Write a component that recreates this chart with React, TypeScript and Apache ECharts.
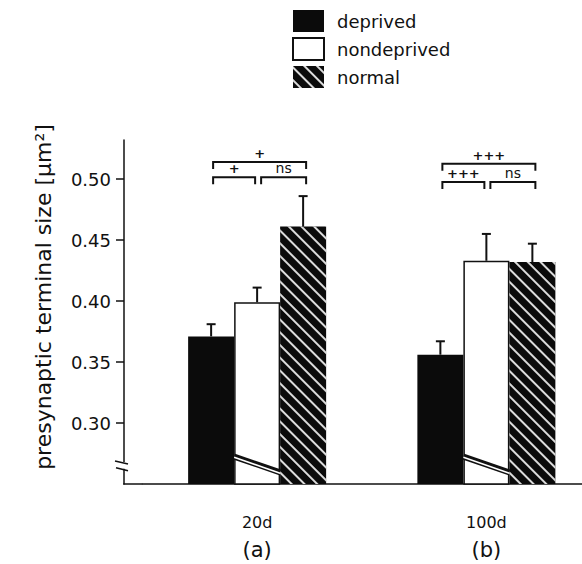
import React, { useEffect, useRef } from "react";
import * as echarts from "echarts";

const categories = ["20d", "100d"];
const panelLabels = ["(a)", "(b)"];
const seriesNames = ["deprived", "nondeprived", "normal"];
const deprived = [0.371, 0.356];
const nondeprived = [0.399, 0.433];
const normal = [0.461, 0.432];
const deprivedErr = [0.01, 0.011];
const nondeprivedErr = [0.012, 0.022];
const normalErr = [0.025, 0.015];
const yTicks = [0.3, 0.35, 0.4, 0.45, 0.5];
// [categoryIndex, fromBar, toBar, level, label]
const brackets: [number, number, number, number, string][] = [
  [0, 0, 1, 0.5015, "+"],
  [0, 1, 2, 0.5015, "ns"],
  [0, 0, 2, 0.514, "+"],
  [1, 0, 1, 0.4975, "+++"],
  [1, 1, 2, 0.4975, "ns"],
  [1, 0, 2, 0.5125, "+++"],
];
// axis break drawn across the middle bar of each group
const breakFrom = 0.2725;
const breakTo = 0.2595;

const FONT = "DejaVu Sans";
const BAR_W = 46;

export default function App() {
  const ref = useRef<HTMLDivElement>(null);
  useEffect(() => {
    if (!ref.current) return;
    const chart = echarts.init(ref.current, null, { renderer: "svg" });
    const values = [deprived, nondeprived, normal];
    const errs = [deprivedErr, nondeprivedErr, normalErr];
    const errData: number[][] = [];
    values.forEach((arr, s) =>
      arr.forEach((v, c) => errData.push([c, s, v, errs[s][c]]))
    );
    const barStyles: any[] = [
      { color: "#0b0b0b" },
      { color: "#ffffff", borderColor: "#111", borderWidth: 1.5 },
      {
        color: "#0b0b0b",
        decal: {
          symbol: "rect",
          symbolSize: 1,
          color: "rgba(255,255,255,0.85)",
          dashArrayX: [1, 0],
          dashArrayY: [1.6, 7],
          rotation: Math.PI / 4,
        },
      },
    ];
    const gridLeft = 142.5;
    const option: any = {
      animation: false,
      backgroundColor: "#fff",
      legend: {
        orient: "vertical",
        left: 292,
        top: 10,
        padding: 0,
        itemWidth: 31,
        itemHeight: 22,
        itemGap: 5,
        icon: "rect",
        data: seriesNames,
        selectedMode: false,
        textStyle: {
          fontFamily: FONT,
          fontSize: 18,
          color: "#111",
          padding: [0, 0, 0, 8],
        },
      },
      grid: { left: gridLeft, right: 0, top: 140, bottom: 80 },
      xAxis: {
        type: "category",
        data: categories,
        axisTick: { show: false },
        axisLine: { lineStyle: { color: "#111", width: 1.5 } },
        axisLabel: {
          margin: 28,
          formatter: (v: string, i: number) => `{a|${v}}\n{b|${panelLabels[i]}}`,
          rich: {
            a: { fontFamily: FONT, fontSize: 16, lineHeight: 20, color: "#111" },
            b: { fontFamily: FONT, fontSize: 21, lineHeight: 36, color: "#111" },
          },
        },
      },
      yAxis: {
        type: "value",
        min: 0.25,
        max: 0.532,
        interval: 0.05,
        offset: 18.5,
        name: "presynaptic terminal size [µm²]",
        nameLocation: "middle",
        nameRotate: 90,
        nameGap: 70,
        nameTextStyle: {
          fontFamily: FONT,
          fontSize: 22,
          color: "#111",
          padding: [0, 0, 0, 30],
        },
        splitLine: { show: false },
        axisLine: { show: true, lineStyle: { color: "#111", width: 1.5 } },
        axisTick: {
          show: true,
          length: 8,
          lineStyle: { color: "#111", width: 1.5 },
          customValues: yTicks,
        },
        axisLabel: {
          margin: 13,
          fontFamily: FONT,
          fontSize: 18,
          color: "#111",
          customValues: yTicks,
          formatter: (v: number) => v.toFixed(2),
        },
      },
      series: [
        ...seriesNames.map((name, s) => ({
          name,
          type: "bar",
          data: values[s],
          barWidth: BAR_W,
          barGap: "0%",
          itemStyle: barStyles[s],
          z: 2,
        })),
        {
          type: "custom",
          name: "errors",
          coordinateSystem: "cartesian2d",
          data: errData,
          z: 4,
          renderItem: (params: any, api: any) => {
            const c = api.value(0);
            const s = api.value(1);
            const v = api.value(2);
            const e = api.value(3);
            const base = api.coord([c, v]);
            const top = api.coord([c, v + e]);
            const x = base[0] + (s - 1) * BAR_W;
            return {
              type: "group",
              children: [
                {
                  type: "line",
                  shape: { x1: x, y1: base[1], x2: x, y2: top[1] },
                  style: { stroke: "#111", lineWidth: 2 },
                },
                {
                  type: "line",
                  shape: { x1: x - 4.5, y1: top[1], x2: x + 4.5, y2: top[1] },
                  style: { stroke: "#111", lineWidth: 2 },
                },
              ],
            };
          },
        },
        {
          type: "custom",
          name: "brackets",
          coordinateSystem: "cartesian2d",
          data: brackets.map((b) => [b[0], b[1], b[2], b[3]]),
          z: 4,
          renderItem: (params: any, api: any) => {
            const c = api.value(0);
            const a = api.value(1);
            const b = api.value(2);
            const lvl = api.value(3);
            const label = brackets[params.dataIndex][4];
            const p = api.coord([c, lvl]);
            const xa = p[0] + (a - 1) * BAR_W + (a === 0 ? 2 : 4);
            const xb = p[0] + (b - 1) * BAR_W + (b === 1 ? -2 : 3);
            const y = p[1];
            const isNs = label === "ns";
            return {
              type: "group",
              children: [
                {
                  type: "polyline",
                  shape: {
                    points: [
                      [xa, y + 7],
                      [xa, y],
                      [xb, y],
                      [xb, y + 7],
                    ],
                  },
                  style: { stroke: "#111", lineWidth: 2, fill: null },
                },
                {
                  type: "text",
                  x: (xa + xb) / 2,
                  y: y - 2,
                  style: {
                    text: label,
                    fontFamily: FONT,
                    fontSize: isNs ? 14 : 13,
                    fontWeight: isNs ? "normal" : "bold",
                    fill: "#111",
                    align: "center",
                    verticalAlign: "bottom",
                  },
                },
              ],
            };
          },
        },
        {
          type: "custom",
          name: "break",
          coordinateSystem: "cartesian2d",
          data: categories.map((_, i) => [i, breakFrom, breakTo]),
          z: 3,
          renderItem: (params: any, api: any) => {
            const c = api.value(0);
            const p1 = api.coord([c, api.value(1)]);
            const p2 = api.coord([c, api.value(2)]);
            const x1 = p1[0] - BAR_W / 2;
            const x2 = p1[0] + BAR_W / 2;
            return {
              type: "group",
              children: [
                {
                  type: "line",
                  shape: { x1, y1: p1[1], x2, y2: p2[1] },
                  style: { stroke: "#111", lineWidth: 6 },
                },
                {
                  type: "line",
                  shape: { x1, y1: p1[1] + 0.8, x2, y2: p2[1] + 0.8 },
                  style: { stroke: "#fff", lineWidth: 1.6 },
                },
              ],
            };
          },
        },
      ],
    };
    chart.setOption(option);

    const axX = 124;
    const yBase = chart.convertToPixel({ yAxisIndex: 0 }, 0.25) as number;
    const yGapTop = chart.convertToPixel({ yAxisIndex: 0 }, 0.268) as number;
    const yGapBot = chart.convertToPixel({ yAxisIndex: 0 }, 0.2625) as number;
    chart.setOption({
      graphic: [
        {
          type: "rect",
          z: 100,
          shape: { x: axX - 6, y: yGapTop, width: 12, height: yGapBot - yGapTop },
          style: { fill: "#fff" },
        },
        {
          type: "line",
          z: 101,
          shape: { x1: axX - 9, y1: yGapTop - 1, x2: axX + 4, y2: yGapTop + 2 },
          style: { stroke: "#111", lineWidth: 1.6 },
        },
        {
          type: "line",
          z: 101,
          shape: { x1: axX - 8, y1: yGapBot - 1, x2: axX + 4, y2: yGapBot + 2 },
          style: { stroke: "#111", lineWidth: 1.6 },
        },
        {
          type: "line",
          z: 101,
          shape: { x1: axX - 0.75, y1: yBase, x2: gridLeft, y2: yBase },
          style: { stroke: "#111", lineWidth: 1.5 },
        },
      ],
    });
    return () => chart.dispose();
  }, []);
  return (
    <div
      style={{
        position: "fixed",
        left: 0,
        top: 0,
        width: 582,
        height: 564,
        overflow: "hidden",
        background: "#fff",
      }}
    >
      <div ref={ref} style={{ width: 601, height: 564 }} />
    </div>
  );
}
